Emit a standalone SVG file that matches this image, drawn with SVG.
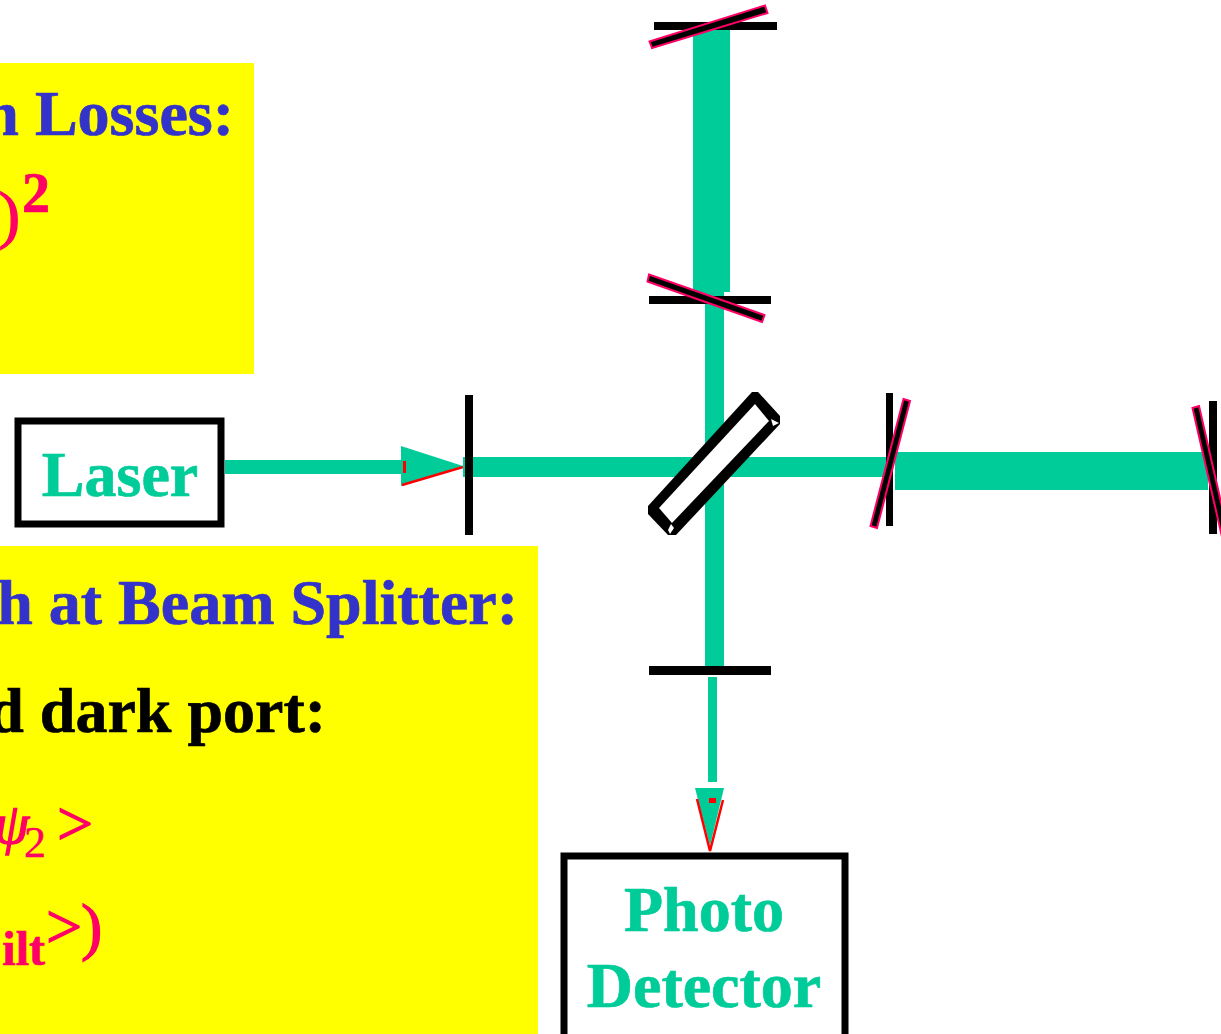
<svg xmlns="http://www.w3.org/2000/svg" width="1221" height="1034" viewBox="0 0 1221 1034">
<style>
text{font-family:"Liberation Serif","Times New Roman",serif;font-weight:bold;font-size:64px;stroke-width:.7px}
.blue{fill:#3333cc;stroke:#3333cc}.pink{fill:#ff0066;stroke:#ff0066}.green{fill:#00cc99;stroke:#00cc99}.black{fill:#000;stroke:#000}
.thin{font-weight:normal;stroke-width:1.3px}
.beam{fill:#00cc99}
.bar{fill:#000}
.tilt{fill:#000;stroke:#ff0066;stroke-width:2}
.box{fill:#fff;stroke:#000;stroke-width:7}
.red{fill:none;stroke:#ff0000;stroke-width:2.5}
.redf{fill:#ff0000}
</style>
<rect width="1221" height="1034" fill="#fff"/>
<g id="note-losses">
<rect x="0" y="63" width="254" height="311" fill="#ffff00"/>
<text class="blue" x="234" y="135" text-anchor="end">n Losses:</text>
<text class="pink thin" x="20" y="236" text-anchor="end">)</text>
<text class="pink" x="22" y="212" style="font-size:56px">2</text>
</g>
<g id="note-beam-splitter">
<rect x="0" y="546" width="538" height="488" fill="#ffff00"/>
<text class="blue" x="518" y="624" text-anchor="end">h at Beam Splitter:</text>
<text class="black" x="326" y="732" text-anchor="end">d dark port:</text>
<text class="pink thin" x="29" y="843" text-anchor="end" style="font-style:italic;font-size:56px">ψ</text>
<text class="pink thin" x="24" y="857" style="font-size:44px;stroke-width:.4px">2</text>
<text class="pink thin" x="57" y="845">&gt;</text>
<text class="pink" x="45" y="965" text-anchor="end" style="font-size:48px">ilt</text>
<text class="pink thin" x="46" y="948">&gt;</text>
<text class="pink thin" x="81" y="948">)</text>
</g>
<g id="connectors">
<rect class="beam" x="225" y="460" width="177" height="14"/>
<polygon class="beam" points="401,446 463,466 401,486"/>
<polyline class="red" points="402,485 463,467"/>
<rect class="redf" x="403" y="461" width="3" height="12"/>
<rect class="redf" x="463" y="459" width="2" height="16"/>
<line x1="463" y1="466" x2="474" y2="465" stroke="#ff0000" stroke-width="1.5"/>
<rect class="beam" x="463" y="457" width="427" height="20"/>
<rect class="beam" x="705" y="300" width="19" height="366"/>
<rect class="beam" x="693" y="30" width="37" height="262"/>
<rect class="beam" x="693" y="292" width="31" height="9"/>
<rect class="beam" x="895" y="452" width="313" height="38"/>
<rect class="beam" x="708" y="677" width="9" height="105"/>
<polygon class="beam" points="695,788 724,788 710,846"/>
<polyline class="red" points="697,799 710,851 723,800"/>
<rect class="redf" x="709" y="798" width="7" height="5"/>
</g>
<g id="mirror-input"><rect class="bar" x="465" y="395" width="8" height="140"/></g>
<g id="mirror-top-end">
<rect class="bar" x="654" y="22" width="123" height="8"/>
<polygon class="tilt" points="649.5,41.5 765,5.5 767.5,13 652,48"/>
</g>
<g id="mirror-top-input">
<rect class="bar" x="649" y="296" width="122" height="8"/>
<polygon class="tilt" points="649,274.5 764.5,315 762,322 647.5,281.5"/>
</g>
<g id="mirror-right-input">
<rect class="bar" x="886" y="393" width="7" height="133"/>
<polygon class="tilt" points="903.5,399 910,401 877,528 870.5,526"/>
</g>
<g id="mirror-right-end">
<rect class="bar" x="1209" y="401" width="8" height="133"/>
<polygon class="tilt" points="1192.5,408 1199,406 1228.5,535 1222,537"/>
</g>
<g id="mirror-output"><rect class="bar" x="649" y="666" width="122" height="9"/></g>
<g id="beam-splitter">
<polygon points="752,392 758,392 780,416 780,424 676,535 668,535 648,514 648,506" fill="#000"/>
<polygon points="755,404 769,421 672,523 659,508" fill="#fff"/>
<polygon points="771,419 779,423 773,426" fill="#fff"/>
<polygon points="671,524 674,528 670,534 668,530" fill="#fff"/>
</g>
<g id="laser">
<rect class="box" x="18" y="421" width="203" height="103"/>
<text class="green" x="120" y="496" text-anchor="middle">Laser</text>
</g>
<g id="photo-detector">
<rect class="box" x="564" y="856" width="281" height="182"/>
<text class="green" x="704" y="931" text-anchor="middle">Photo</text>
<text class="green" x="704" y="1007" text-anchor="middle">Detector</text>
</g>
</svg>
